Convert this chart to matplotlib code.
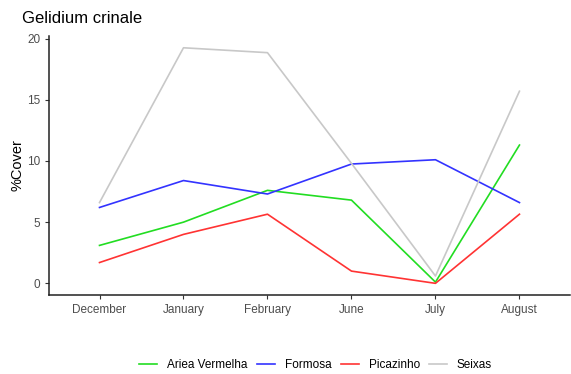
import matplotlib.pyplot as plt
import numpy as np

plt.rcParams['font.family'] = ['Liberation Sans', 'DejaVu Sans']

months = ["December", "January", "February", "June", "July", "August"]
ariea = [3.1, 5.0, 7.6, 6.8, 0.1, 11.3]
formosa = [6.2, 8.4, 7.3, 9.75, 10.1, 6.6]
picazinho = [1.7, 4.0, 5.65, 1.0, 0.0, 5.65]
seixas = [6.6, 19.25, 18.85, 9.8, 0.6, 15.7]

series = [("Ariea Vermelha", ariea, "#22dd22"),
          ("Formosa", formosa, "#3333ff"),
          ("Picazinho", picazinho, "#ff3333"),
          ("Seixas", seixas, "#c8c8c8")]

fig = plt.figure(figsize=(5.71, 3.74), dpi=100)
ax = fig.add_axes([0.086, 0.211, 0.912, 0.693])
x = np.arange(1, len(months) + 1)
for name, vals, col in series:
    ax.plot(x, vals, color=col, lw=1.2, label=name)

ax.set_xlim(0.4, 6.6)
ax.set_ylim(-0.96, 20.22)
ax.set_xticks(x)
ax.set_xticklabels(months)
ax.set_yticks([0, 5, 10, 15, 20])
ax.tick_params(colors="#333333", labelcolor="#4d4d4d", labelsize=8.5, length=3, width=0.8)
for s in ["top", "right"]:
    ax.spines[s].set_visible(False)
for s in ["left", "bottom"]:
    ax.spines[s].set_linewidth(1.1)
    ax.spines[s].set_color("#222222")
ax.set_ylabel("%Cover", fontsize=10.5, labelpad=2)
fig.text(0.038, 0.95, "Gelidium crinale", fontsize=12, ha="left", va="center")
fig.legend(loc="center", bbox_to_anchor=(0.553, 0.024), ncol=4, frameon=False,
           fontsize=8.5, handlelength=1.5, columnspacing=0.8, handletextpad=0.85)
fig.savefig("out.png", dpi=100)
